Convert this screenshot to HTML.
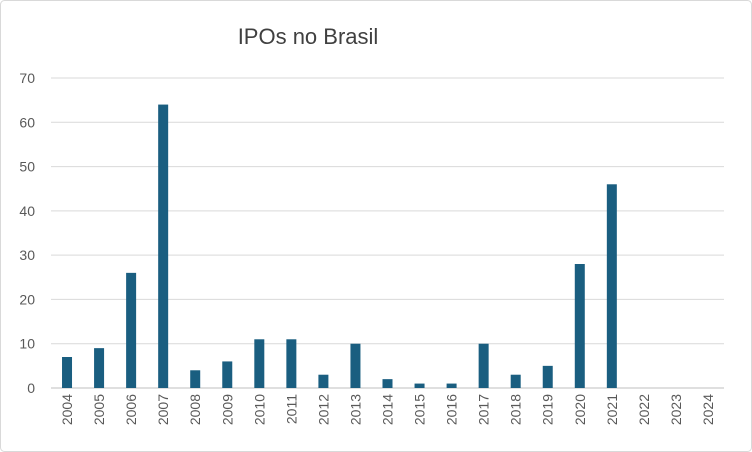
<!DOCTYPE html>
<html><head><meta charset="utf-8">
<style>
html,body{margin:0;padding:0;background:#fff;}
svg{display:block;font-family:"Liberation Sans",Arial,sans-serif;}
</style></head>
<body>
<svg id="chart" width="752" height="452" viewBox="0 0 752 452" xmlns="http://www.w3.org/2000/svg">
<rect x="0.5" y="0.5" width="751" height="451" rx="4" fill="#fff" stroke="#d9d9d9"/>
<text x="308" y="44" font-size="22" fill="#404040" text-anchor="middle">IPOs no Brasil</text>
<g id="grid"></g><g id="bars"></g><g id="labels"></g>
</svg>
<script>
const categories=["2004","2005","2006","2007","2008","2009","2010","2011","2012","2013","2014","2015","2016","2017","2018","2019","2020","2021","2022","2023","2024"];
const values=[7,9,26,64,4,6,11,11,3,10,2,1,1,10,3,5,28,46,0,0,0];
const yTicks=[0,10,20,30,40,50,60,70];
const NS="http://www.w3.org/2000/svg";
const left=51,right=724,y0=388,yTop=78,yMax=70;
const step=(right-left)/categories.length;
const y=v=>y0-(y0-yTop)*v/yMax;
const x=i=>left+step*(i+0.5);
function mk(t,a){const e=document.createElementNS(NS,t);for(const k in a)e.setAttribute(k,a[k]);return e;}
const grid=document.getElementById('grid'),bars=document.getElementById('bars'),labels=document.getElementById('labels');
yTicks.forEach(t=>{
 const l=mk('line',{x1:left,x2:right,y1:y(t),y2:y(t),stroke:t===0?'#bfbfbf':'#d9d9d9','stroke-width':1});
 
 
 grid.appendChild(l);
 const tx=mk('text',{x:35,y:y(t)+5,'font-size':14,fill:'#595959','text-anchor':'end'});
 tx.textContent=t;
 
 
 labels.appendChild(tx);
});
categories.forEach((c,i)=>{
 const v=values[i];
 const r=mk('rect',{x:x(i)-5,y:y(v),width:10,height:y0-y(v),fill:'#1a5e80'});
 
 
 bars.appendChild(r);
 const tx=mk('text',{x:0,y:0,'font-size':14,fill:'#595959','text-anchor':'end',transform:`translate(${x(i)+5},${y0+6}) rotate(-90)`});
 tx.textContent=c;
 
 
 labels.appendChild(tx);
});
</script>
</body></html>
